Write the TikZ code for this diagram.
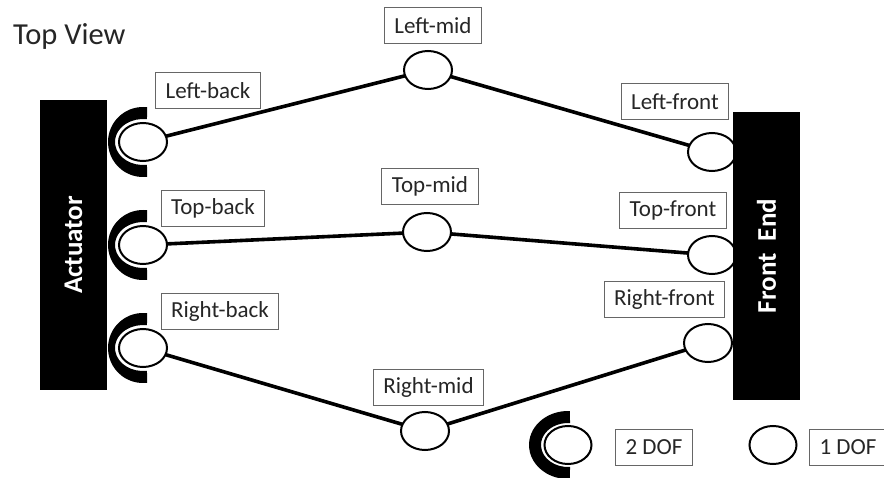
\documentclass[tikz,border=0pt]{standalone}
\usepackage{fontspec}
\setmainfont{Carlito}
\usetikzlibrary{shapes.geometric,backgrounds}
\tikzset{
  joint/.style={ellipse,draw=black,line width=2pt,fill=white,minimum width=48pt,minimum height=38pt,inner sep=0pt},
  lbl/.style={draw=black!60,line width=0.9pt,fill=white,text=black!85,inner xsep=10pt,minimum height=36pt,font=\fontsize{23}{27}\selectfont},
  bar/.style={fill=black,text=white,font=\bfseries\fontsize{27}{32}\selectfont,inner sep=0pt},
  link/.style={line width=3.6pt,black},
  cjoint/.pic={\fill[black] (83.4:35pt) arc[start angle=83.4,end angle=276.6,radius=35pt] -- (278.2:28pt and 23pt) arc[start angle=278.2,end angle=81.8,x radius=28pt,y radius=23pt] -- cycle;},
  cjointbig/.pic={\fill[black] (87.1:39pt and 34pt) arc[start angle=87.1,end angle=272.9,x radius=39pt,y radius=34pt] -- (274.25:27pt and 22pt) arc[start angle=274.25,end angle=85.75,x radius=27pt,y radius=22pt] -- cycle;}
}
\begin{document}
\begin{tikzpicture}[x=1pt,y=-1pt]
\useasboundingbox (0,0) rectangle (884,478);
\begin{scope}[on background layer]
\fill[white] (0,0) rectangle (884,478);
\end{scope}
\node[anchor=base west,inner sep=0pt,text=black!85,font=\fontsize{30.5}{36}\selectfont] (title) at (13,45) {Top View};

% back C-shapes
\pic at (143,142) {cjoint};
\pic at (143,245) {cjoint};
\pic at (143,348) {cjoint};

% joints
\node[joint] (lb) at (143,142) {};
\node[joint] (tb) at (143,245) {};
\node[joint] (rb) at (143,348) {};
\node[joint] (lm) at (428,70) {};
\node[joint] (tm) at (427,232) {};
\node[joint] (rm) at (425,431) {};
\node[joint] (lf) at (712,152) {};
\node[joint] (tf) at (712,255) {};
\node[joint] (rf) at (708,343) {};

% links
\begin{scope}[on background layer]
\draw[link] (lb.center) -- (lm.center) -- (lf.center);
\draw[link] (tb.center) -- (tm.center) -- (tf.center);
\draw[link] (rb.center) -- (rm.center) -- (rf.center);
\end{scope}

% bars
\node[bar,minimum width=290pt,minimum height=67pt,rotate=90] (act) at (73.5,245) {Actuator};
\node[bar,minimum width=288pt,minimum height=67pt,rotate=90] (fe) at (766.5,256) {Front\ \ End};

% labels
\node[lbl] (lbl-lb) at (208,90.5) {Left-back};
\node[lbl] (lbl-tb) at (213,208) {Top-back};
\node[lbl] (lbl-rb) at (220,311) {Right-back};
\node[lbl] (lbl-lm) at (433,25.5) {Left-mid};
\node[lbl] (lbl-tm) at (430,186.5) {Top-mid};
\node[lbl] (lbl-rm) at (428.5,387) {Right-mid};
\node[lbl] (lbl-lf) at (675,101.5) {Left-front};
\node[lbl] (lbl-tf) at (673,210.5) {Top-front};
\node[lbl] (lbl-rf) at (664.5,299) {Right-front};

% legend
\pic at (568,445) {cjointbig};
\node[joint,minimum width=47pt] (leg2) at (568,445) {};
\node[lbl] (lbl-2) at (654,447) {2 DOF};
\node[joint,minimum width=47pt] (leg1) at (773,445) {};
\node[lbl] (lbl-1) at (848,447) {1 DOF};
\end{tikzpicture}
\end{document}
